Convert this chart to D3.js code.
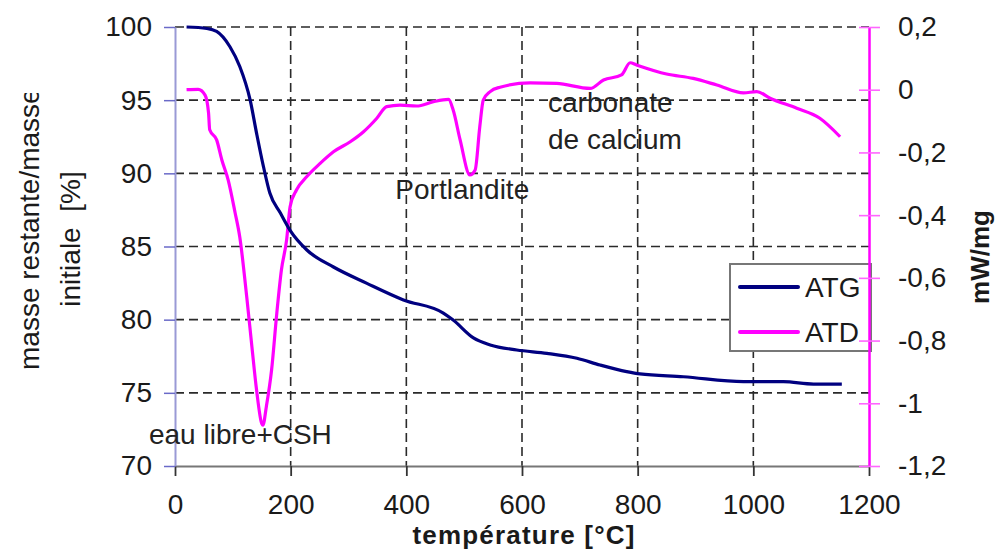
<!DOCTYPE html>
<html><head><meta charset="utf-8">
<script src="https://cdn.jsdelivr.net/npm/d3@7"></script>
<style>
html,body{margin:0;padding:0;background:#fff;}
svg{display:block;font-family:"Liberation Sans",Arial,sans-serif;}
</style></head>
<body><div id="chart"></div>
<script>
// ---- data ----
const atgTemp = [20, 55, 72, 95, 112, 130, 141, 153, 164, 182, 199, 228, 274, 331, 395, 464, 481, 516, 545, 591, 643, 695, 735, 781, 804, 879, 983, 1052, 1104, 1153];
const atgMass = [100, 99.9, 99.7, 98.65, 97.3, 95.0, 92.75, 90.45, 88.65, 87.3, 86.1, 84.76, 83.6, 82.5, 81.35, 80.45, 79.97, 78.75, 78.27, 77.93, 77.7, 77.36, 76.9, 76.45, 76.29, 76.1, 75.76, 75.76, 75.6, 75.6];
const atdTemp = [20, 40, 52, 58, 60, 72, 81, 92, 104, 112, 124, 133, 141, 150, 152, 158, 167, 176, 184, 193, 199, 210, 228, 251, 274, 303, 326, 349, 366, 389, 418, 447, 473, 481, 493, 510, 519, 527, 533, 545, 562, 614, 660, 718, 741, 772, 787, 798, 850, 896, 937, 983, 1006, 1029, 1075, 1115, 1150];
const atdHeat = [0, 0.001, -0.017, -0.074, -0.128, -0.16, -0.224, -0.288, -0.393, -0.47, -0.66, -0.82, -0.957, -1.065, -1.07, -1.01, -0.894, -0.713, -0.575, -0.479, -0.373, -0.32, -0.277, -0.235, -0.198, -0.166, -0.134, -0.091, -0.054, -0.049, -0.052, -0.038, -0.031, -0.065, -0.16, -0.272, -0.256, -0.118, -0.033, -0.006, 0.008, 0.022, 0.02, 0.004, 0.031, 0.047, 0.086, 0.079, 0.05, 0.036, 0.015, -0.01, -0.006, -0.027, -0.059, -0.091, -0.15];
const xTicks = [0, 200, 400, 600, 800, 1000, 1200];
const leftTicks = [70, 75, 80, 85, 90, 95, 100];
const rightTicks = [0.2, 0, -0.2, -0.4, -0.6, -0.8, -1, -1.2];
const rightTickLabels = ["0,2", "0", "-0,2", "-0,4", "-0,6", "-0,8", "-1", "-1,2"];
const seriesNames = ["ATG", "ATD"];
const annotations = [
  {text: "eau libre+CSH", t: -45, v: -1.13},
  {text: "Portlandite", t: 381, v: -0.35},
  {text: "carbonate", t: 645, v: -0.07},
  {text: "de calcium", t: 645, v: -0.19}
];

// ---- layout ----
const W = 996, H = 551;
const L = 175, R = 869, T = 27, B = 466;
const svg = d3.select("#chart").append("svg").attr("width", W).attr("height", H);

const x = d3.scaleLinear().domain([0, 1200]).range([L, R]);
const yL = d3.scaleLinear().domain([70, 100]).range([B, T]);
const yR = d3.scaleLinear().domain([-1.2, 0.2]).range([B, T]);

const FS = 28;
const textCol = "#1a1a1a";
const ATG_COL = "#000080", ATD_COL = "#ff00ff";

// gridlines
const grid = svg.append("g").attr("stroke", "#2a2a2a").attr("stroke-width", 1.6).attr("stroke-dasharray", "9,5");
grid.selectAll("line.h").data(leftTicks.filter(d => d > 70)).join("line")
  .attr("class", "h")
  .attr("x1", L).attr("x2", R).attr("y1", d => yL(d)).attr("y2", d => yL(d));
grid.selectAll("line.v").data(xTicks.filter(d => d > 0 && d < 1200)).join("line")
  .attr("class", "v")
  .attr("x1", d => x(d)).attr("x2", d => x(d)).attr("y1", T).attr("y2", B);

// x axis
const xAxis = svg.append("g").attr("transform", `translate(0,${B})`)
  .call(d3.axisBottom(x).tickValues(xTicks).tickSize(10).tickSizeOuter(0).tickPadding(18).tickFormat(d3.format("d")));
xAxis.select(".domain").attr("stroke", "#777").attr("stroke-width", 2);
xAxis.selectAll(".tick line").attr("stroke", "#333").attr("stroke-width", 1.8);
xAxis.selectAll(".tick text").attr("font-size", FS).attr("fill", textCol).attr("font-family", "Liberation Sans, Arial, sans-serif");

// left axis
const yAxisL = svg.append("g").attr("transform", `translate(${L},0)`)
  .call(d3.axisLeft(yL).tickValues(leftTicks).tickSize(11).tickSizeOuter(0).tickPadding(12).tickFormat(d3.format("d")));
yAxisL.select(".domain").attr("stroke", "#9a9ad6").attr("stroke-width", 2);
yAxisL.selectAll(".tick line").attr("stroke", "#6a6ac8").attr("stroke-width", 1.5);
yAxisL.selectAll(".tick text").attr("font-size", FS).attr("fill", textCol).attr("font-family", "Liberation Sans, Arial, sans-serif");

// curves
const line = d3.line().curve(d3.curveMonotoneX);
const atgPts = atgTemp.map((t, i) => [x(t), yL(atgMass[i])]);
const atdPts = atdTemp.map((t, i) => [x(t), yR(atdHeat[i])]);
svg.append("path").attr("d", line(atdPts)).attr("fill", "none").attr("stroke", ATD_COL).attr("stroke-width", 3.2).attr("stroke-linejoin", "round");
svg.append("path").attr("d", line(atgPts)).attr("fill", "none").attr("stroke", ATG_COL).attr("stroke-width", 3.2).attr("stroke-linejoin", "round");

// annotations
svg.selectAll("text.ann").data(annotations).join("text")
  .attr("class", "ann")
  .attr("x", d => x(d.t)).attr("y", d => yR(d.v))
  .attr("font-size", FS).attr("fill", "#222").text(d => d.text);

// legend
const lg = svg.append("g");
lg.append("rect").attr("x", 730).attr("y", 264).attr("width", 141).attr("height", 87)
  .attr("fill", "#fff").attr("stroke", "#777").attr("stroke-width", 2);
const legCols = [ATG_COL, ATD_COL];
seriesNames.forEach((n, i) => {
  const yy = 287 + i * 45;
  lg.append("line").attr("x1", 740).attr("x2", 798).attr("y1", yy).attr("y2", yy)
    .attr("stroke", legCols[i]).attr("stroke-width", 4).attr("stroke-linecap", "round");
  lg.append("text").attr("x", 805).attr("y", yy + 10).attr("font-size", FS).attr("fill", textCol).text(n);
});

// right axis
const yAxisR = svg.append("g").attr("transform", `translate(${R},0)`)
  .call(d3.axisRight(yR).tickValues(rightTicks).tickSize(11).tickSizeOuter(0).tickPadding(18)
    .tickFormat((d, i) => rightTickLabels[i]));
yAxisR.select(".domain").attr("stroke", ATD_COL).attr("stroke-width", 2.5);
yAxisR.selectAll(".tick line").attr("stroke", "#ff66ff").attr("stroke-width", 1.6).attr("x1", -10);
yAxisR.selectAll(".tick text").attr("font-size", FS).attr("fill", textCol).attr("font-family", "Liberation Sans, Arial, sans-serif");

// axis titles
svg.append("defs").append("clipPath").attr("id", "ltclip")
  .append("rect").attr("x", 0).attr("y", 93).attr("width", 120).attr("height", 400);
svg.append("g").attr("clip-path", "url(#ltclip)")
  .append("text")
  .attr("transform", "translate(39,370) rotate(-90)")
  .attr("font-size", FS).attr("fill", textCol).text("masse restante/masse");
svg.append("text").attr("transform", "translate(80,239) rotate(-90)")
  .attr("text-anchor", "middle").attr("font-size", FS).attr("fill", textCol)
  .style("white-space", "pre").text("initiale  [%]");
svg.append("text").attr("transform", "translate(989,257) rotate(-90)")
  .attr("text-anchor", "middle").attr("font-size", 26).attr("font-weight", "bold").attr("fill", textCol).text("mW/mg");
svg.append("text").attr("x", 524).attr("y", 544)
  .attr("text-anchor", "middle").attr("font-size", 26).attr("font-weight", "bold").attr("fill", textCol)
  .attr("letter-spacing", 1.2).text("température [°C]");
</script></body></html>
